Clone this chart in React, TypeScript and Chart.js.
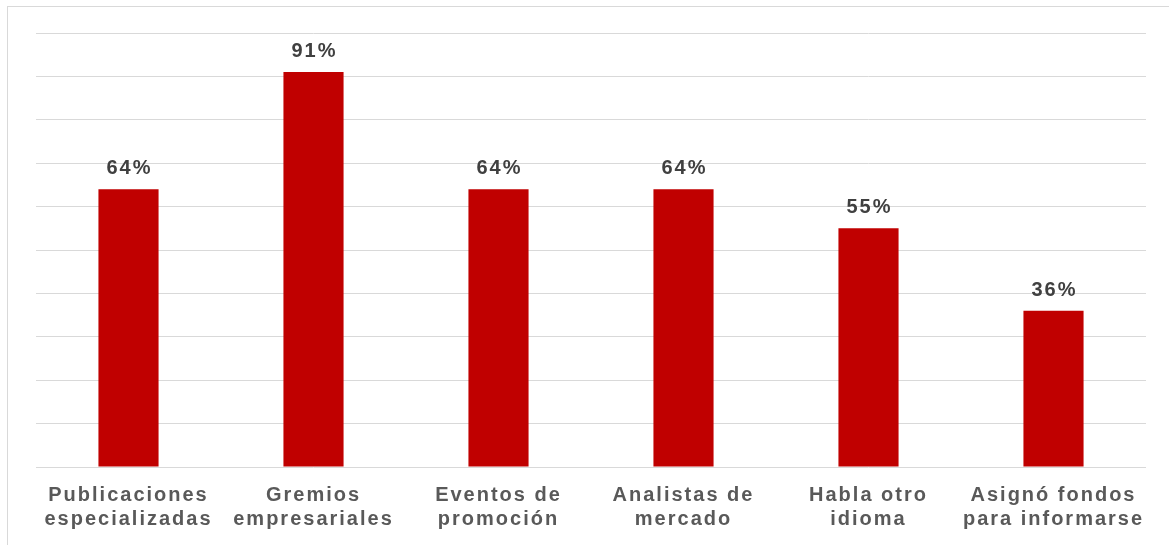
import React, { useEffect, useRef } from "react";
import { Chart, registerables } from "chart.js";

Chart.register(...registerables);

const categories: string[][] = [
  ["Publicaciones", "especializadas"],
  ["Gremios", "empresariales"],
  ["Eventos de", "promoción"],
  ["Analistas de", "mercado"],
  ["Habla otro", "idioma"],
  ["Asignó fondos", "para informarse"],
];
const values: number[] = [64, 91, 64, 64, 55, 36];
const valueLabels: string[] = ["64%", "91%", "64%", "64%", "55%", "36%"];

const FONT = "'Liberation Sans', Arial, sans-serif";

const spacingPlugin = {
  id: "spacing",
  beforeDraw(chart: any) {
    (chart.ctx as any).letterSpacing = "2px";
  },
};

const valueLabelPlugin = {
  id: "valueLabels",
  afterDatasetsDraw(chart: any) {
    const ctx = chart.ctx;
    const meta = chart.getDatasetMeta(0);
    ctx.save();
    (ctx as any).letterSpacing = "2px";
    ctx.font = `bold 20px ${FONT}`;
    ctx.fillStyle = "#404040";
    ctx.textAlign = "center";
    ctx.textBaseline = "alphabetic";
    meta.data.forEach((bar: any, i: number) => {
      ctx.fillText(valueLabels[i], bar.x + 1, bar.y - 15);
    });
    ctx.restore();
  },
};

export default function App() {
  const ref = useRef<HTMLCanvasElement | null>(null);
  useEffect(() => {
    if (!ref.current) return;
    const chart = new Chart(ref.current, {
      type: "bar",
      data: {
        labels: categories,
        datasets: [
          {
            data: values,
            backgroundColor: "#C00000",
            borderWidth: 0,
            categoryPercentage: 1,
            barPercentage: 0.325,
          },
        ],
      },
      options: {
        responsive: false,
        animation: false,
        layout: { padding: { left: 36, right: 23, top: 33, bottom: -2 } },
        plugins: { legend: { display: false }, tooltip: { enabled: false } },
        scales: {
          x: {
            grid: { display: false, drawTicks: false },
            border: { display: false },
            ticks: {
              color: "#595959",
              font: { family: FONT, size: 20, weight: "bold", lineHeight: 1.2 },
              padding: 16,
              maxRotation: 0,
              autoSkip: false,
            },
          },
          y: {
            min: 0,
            max: 100,
            ticks: { display: false, stepSize: 10 },
            grid: { color: "#d9d9d9", lineWidth: 1, drawTicks: false },
            border: { display: false },
          },
        },
      },
      plugins: [spacingPlugin, valueLabelPlugin],
    });
    return () => chart.destroy();
  }, []);
  return (
    <div
      style={{
        position: "fixed",
        left: 0,
        top: 0,
        width: 1169,
        height: 545,
        overflow: "hidden",
        background: "#fff",
      }}
    >
      <div
        style={{
          position: "absolute",
          left: 7,
          top: 6,
          width: 1180,
          height: 560,
          border: "1px solid #d9d9d9",
          boxSizing: "border-box",
        }}
      />
      <canvas
        ref={ref}
        width={1169}
        height={545}
        style={{ position: "absolute", left: 0, top: 0, width: 1169, height: 545 }}
      />
    </div>
  );
}
